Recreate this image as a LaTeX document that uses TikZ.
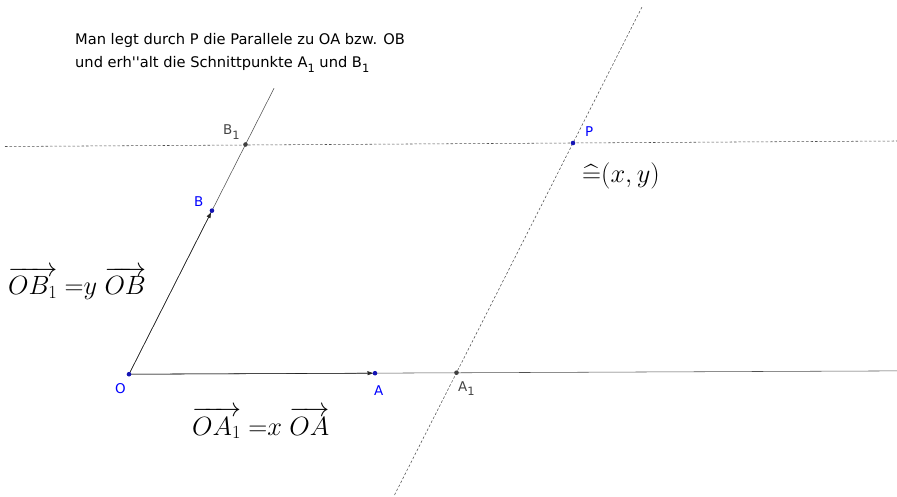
\RequirePackage{fix-cm}
\documentclass[tikz,border=0pt]{standalone}
\usepackage{amsmath}
\usepackage{fontspec}
\setmainfont{DejaVu Sans}
\usetikzlibrary{arrows.meta,calc}
\definecolor{ggblue}{HTML}{0000FF}
\definecolor{ptblue}{HTML}{1414B4}
\definecolor{lblgray}{HTML}{444444}
\definecolor{lnegray}{HTML}{505050}
\newcommand{\lsub}[1]{\raisebox{-0.35em}{\fontsize{11.5}{11.5}\selectfont #1}}

\tikzset{
  ray/.style={lnegray, line width=0.55pt},
  para/.style={lnegray, line width=0.55pt, dash pattern=on 2.5bp off 2bp},
  vec/.style={black!85, line width=0.55pt, shorten >=2bp, -{Triangle[length=5.5bp,width=4bp]}},
  lbl/.style={font=\fontsize{13.5}{13.5}\selectfont, text=ggblue, inner sep=0pt, anchor=base west},
  lblg/.style={lbl, text=lblgray},
  formel/.style={font=\fontsize{26.5}{32}\selectfont, inner sep=0pt, anchor=base west}
}

\begin{document}
\begin{tikzpicture}[x=1bp, y=-1bp]
  \useasboundingbox (0,0) rectangle (897,497);
  % Punkte
  \coordinate (O) at (129,374.2);
  \coordinate (A) at (375,373.2);
  \coordinate (P) at (573,143);
  \coordinate (A1) at (456.5,372.7);
  \coordinate (B1) at ($(O)+(P)-(A1)$);
  \coordinate (B) at ($(O)!0.712!(B1)$);
  % Enden der Geraden
  \coordinate (eA) at (897,370.9);
  \coordinate (eB) at ($(O)!1.245!(B1)$);
  \coordinate (hL) at (5,146.5);
  \coordinate (hR) at (897,141);
  \coordinate (sT) at (642.5,6);
  \coordinate (sB) at (394.5,495);

  \draw[ray] (O) -- (eA);
  \draw[ray] (O) -- (eB);
  \draw[para] (hL) -- (hR);
  \draw[para] (sB) -- (sT);
  \draw[vec] (O) -- (A);
  \draw[vec] (O) -- (B);

  \foreach \p in {O,A,B,P}
    \fill[ptblue] (\p) circle (2.3bp);
  \foreach \p in {A1,B1}
    \fill[black!75] (\p) circle (2.3bp);

  \node[lbl] (lO) at (115,393) {O};
  \node[lbl] (lA) at (374,395) {A};
  \node[lbl] (lB) at (194,207) {B};
  \node[lbl] (lP) at (585,137) {P};
  \node[lblg] (lA1) at (458,391) {A\lsub{1}};
  \node[lblg] (lB1) at (223,135) {B\lsub{1}};

  \node[font=\fontsize{14.7}{23}\selectfont, inner sep=0pt, anchor=north west, align=left] (txt) at (75,33)
    {Man legt durch P die Parallele zu OA bzw. OB\\
     und erh\textquotesingle\textquotesingle alt die Schnittpunkte A\lsub{1} und B\lsub{1}};

  \node[formel] (fB) at (8,295) {$\overrightarrow{OB_1}\;{=}y\;\overrightarrow{OB}$};
  \node[formel] (fA) at (192,435) {$\overrightarrow{OA_1}\;{=}x\;\overrightarrow{OA}$};
  \node[formel] (fP) at (582,183) {$\widehat{=}(x,y)$};
\end{tikzpicture}
\end{document}
